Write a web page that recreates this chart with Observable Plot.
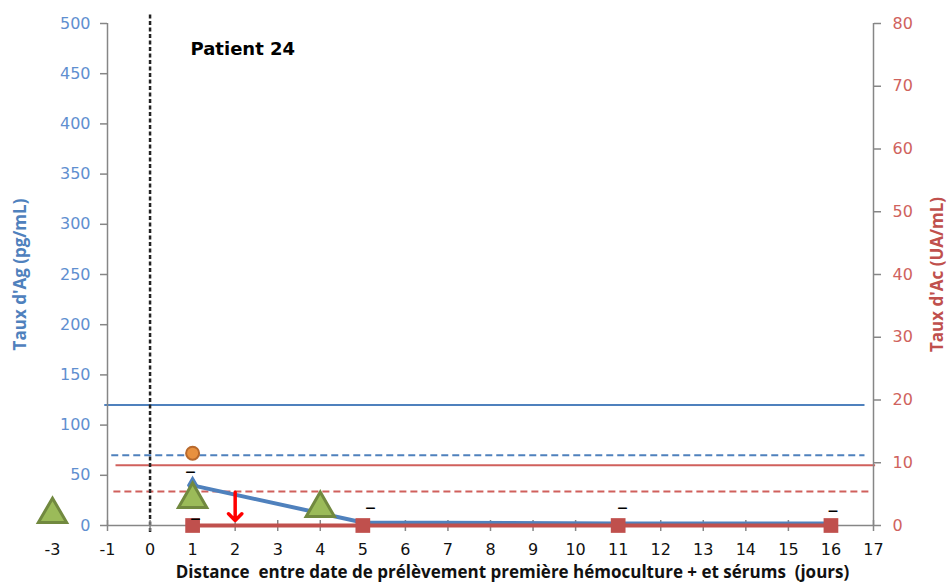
<!DOCTYPE html>
<html>
<head>
<meta charset="utf-8">
<script src="https://cdn.jsdelivr.net/npm/d3@7"></script>
<script src="https://cdn.jsdelivr.net/npm/@observablehq/plot@0.6"></script>
<style>
  html, body { margin: 0; padding: 0; background: #fff; }
  svg { display: block; }
</style>
</head>
<body>
<div id="chart"></div>
<script>
// ---- data ----
const xTicks = [-1, 0, 1, 2, 3, 4, 5, 6, 7, 8, 9, 10, 11, 12, 13, 14, 15, 16, 17];
const xExtraTick = [-3];
const agTicks = [0, 50, 100, 150, 200, 250, 300, 350, 400, 450, 500];
const acTicks = [0, 10, 20, 30, 40, 50, 60, 70, 80];

// Antigen (pg/mL), left axis
const agDays = [1, 5, 11, 16];
const agValues = [40, 3, 2, 2];
// Antibody (UA/mL), right axis
const acDays = [1, 5, 11, 16];
const acValues = [0, 0, 0, 0];
// Other markers (left axis units)
const triDays = [-3, 1, 4];
const triValues = [11, 26, 17];
const circleDays = [1];
const circleValues = [72];
const arrowDays = [2];
const arrowFrom = [33];
const arrowTo = [5];
// "–" labels
const dashDays = [0.95, 1.07, 5.18, 11.1, 16.05];
const dashValues = [54, 8, 18, 18, 15];
// thresholds
const agRefValues = [120, 70];
const agRefStyles = ["solid", "dashed"];
const agRefFrom = [-1.1, -0.9];
const agRefTo = [16.8, 16.8];
const acRefValues = [9.6, 5.4];
const acRefStyles = ["solid", "dashed"];
const acRefFrom = [-0.8, -0.85];
const acRefTo = [17.05, 16.9];

const title = "Patient 24";
const xLabel = "Distance  entre date de prélèvement première hémoculture + et sérums  (jours)";
const agLabel = "Taux d'Ag (pg/mL)";
const acLabel = "Taux d'Ac (UA/mL)";

// ---- build ----
const k = 500 / 80; // right axis -> left axis units
const ag = agDays.map((x, i) => ({x, y: agValues[i]}));
const ac = acDays.map((x, i) => ({x, y: acValues[i] * k}));
const tri = triDays.map((x, i) => ({x, y: triValues[i]}));
const circ = circleDays.map((x, i) => ({x, y: circleValues[i]}));
const arr = arrowDays.map((x, i) => ({x, y1: arrowFrom[i], y2: arrowTo[i]}));
const dashes = dashDays.map((x, i) => ({x, y: dashValues[i]}));
const refs = [
  ...agRefValues.map((v, i) => ({y: v, x1: agRefFrom[i], x2: agRefTo[i], style: agRefStyles[i], color: "#4f81bd"})),
  ...acRefValues.map((v, i) => ({y: v * k, x1: acRefFrom[i], x2: acRefTo[i], style: acRefStyles[i], color: "#d0605c"}))
];

const BLUE = "#4f81bd", RED = "#c0504d", GRAY = "#868686";
const tickFont = "DejaVu Sans, Verdana, sans-serif";
const boldFont = "'Open Sans', 'Liberation Sans', sans-serif";

const chart = Plot.plot({
  width: 947,
  height: 586,
  marginLeft: 107,
  marginRight: 74,
  marginTop: 23,
  marginBottom: 61,
  x: {type: "linear", domain: [-3, -1, 17], range: [52, 107, 873]},
  y: {domain: [0, 500], range: [525, 23]},
  style: {fontFamily: tickFont, fontSize: "16px", background: "white", overflow: "visible"},
  marks: [
    // threshold lines
    Plot.ruleY(refs.filter(d => d.style === "solid"), {y: "y", x1: "x1", x2: "x2", stroke: "color", strokeWidth: 2}),
    Plot.ruleY(refs.filter(d => d.style === "dashed"), {y: "y", x1: "x1", x2: "x2", stroke: "color", strokeWidth: 2, strokeDasharray: "7,4"}),
    // vertical day-0 line
    Plot.ruleX([0], {y1: -7, y2: 510, stroke: "#222", strokeWidth: 2.5, strokeDasharray: "4,2.5"}),
    // axis lines
    Plot.ruleX([-1, 17], {y1: 0, y2: 500, stroke: GRAY, strokeWidth: 1.5}),
    Plot.ruleY([0], {x1: -1, x2: 17, stroke: GRAY, strokeWidth: 1.5}),
    Plot.ruleX(xTicks, {x: d => d, y1: 5, y2: -6, stroke: GRAY, strokeWidth: 1.5}),
    // axes
    Plot.axisX(xTicks, {tickSize: 0, tickPadding: 18, fill: "#111", fontSize: 16, tickFormat: d => String(d)}),
    Plot.axisX(xExtraTick, {tickSize: 0, tickPadding: 18, fill: "#111", fontSize: 16, tickFormat: d => String(d)}),
    Plot.axisY(agTicks, {anchor: "left", tickSize: 7, tickPadding: 10, stroke: GRAY, fill: "#5f8fd0", fontSize: 16, strokeWidth: 1.5, label: null, tickFormat: d => String(d)}),
    Plot.axisY(acTicks.map(d => d * k), {anchor: "right", tickSize: 7, tickPadding: 12, stroke: GRAY, fill: "#cf625d", fontSize: 16, strokeWidth: 1.5, tickFormat: d => String(Math.round(d / k)), label: null}),
    // series
    Plot.line(ag, {x: "x", y: "y", stroke: BLUE, strokeWidth: 4}),
    Plot.dot(ag.slice(0, 1), {x: "x", y: "y", symbol: "diamond", r: 5, fill: BLUE, stroke: BLUE}),
    Plot.line(ac, {x: "x", y: "y", stroke: RED, strokeWidth: 4}),
    Plot.dot(ac, {x: "x", y: "y", symbol: "square", r: 8.3, fill: RED, stroke: "none"}),
    Plot.dot(tri, {x: "x", y: "y", symbol: "triangle", r: 10.5, fill: "#9bbb59", stroke: "#71893f", strokeWidth: 3}),
    Plot.dot(circ, {x: "x", y: "y", r: 6.5, fill: "#e8913f", stroke: "#b8692c", strokeWidth: 2}),
    Plot.arrow(arr, {x1: "x", x2: "x", y1: "y1", y2: "y2", stroke: "#ff0000", strokeWidth: 3.5, headLength: 15, headAngle: 90}),
    Plot.text(dashes, {x: "x", y: "y", text: () => "–", fontSize: 22, fill: "#000"}),
    // titles
    Plot.text([title], {frameAnchor: "top-left", dx: 83, dy: 19, text: d => d, fontFamily: tickFont, fontWeight: "bold", fontSize: 18, textAnchor: "start", fill: "#000"}),
    Plot.text([agLabel], {frameAnchor: "left", dx: -87, rotate: -90, textAnchor: "middle", text: d => d, fontFamily: boldFont, fontWeight: "bold", fontSize: 17, fill: "#4f81bd"}),
    Plot.text([acLabel], {frameAnchor: "right", dx: 64, rotate: -90, textAnchor: "middle", text: d => d, fontFamily: boldFont, fontWeight: "bold", fontSize: 17, fill: "#c0504d"}),
    Plot.text([xLabel], {frameAnchor: "bottom", dx: 22, dy: 52, textAnchor: "middle", text: d => d, fontFamily: boldFont, fontWeight: "bold", fontSize: 17, fill: "#111"})
  ]
});
document.getElementById("chart").appendChild(chart);
</script>
</body>
</html>
